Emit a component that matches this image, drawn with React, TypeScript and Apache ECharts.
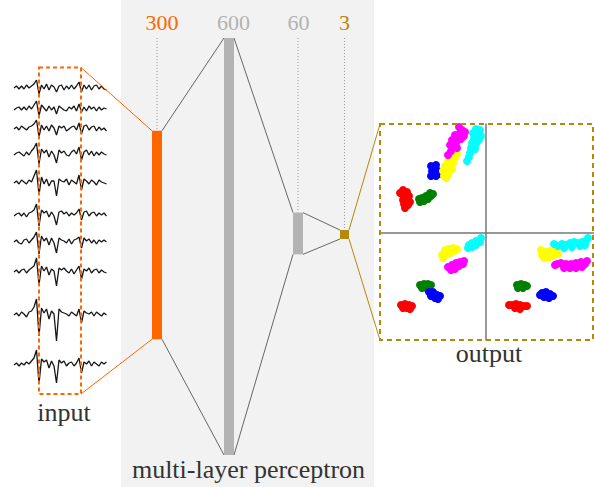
import React, { useEffect, useRef } from 'react';
import * as echarts from 'echarts';

// ---------- data ----------
const LAYER_SIZES = [300, 600, 60, 3];

const TRACE_1 = [0, 2, -1, 2, -1, 3, 0, 2, 4, 8, -6, 3, -1, 4, -2, 3, 1, -4, 2, 3, -2, 2, -1, 3, -1, 2, 6, -4, 3, -1, 3, -2, 2, 3, -1, 2, -1, -2];
const TRACE_2 = [-1, 1, 2, -1, 2, -1, 3, 0, 4, 8, -7, 4, 1, -2, 3, -1, 2, -5, 3, 1, -1, -2, 2, 0, 3, -2, 5, -3, 2, -2, 3, 0, 2, -2, 2, -1, 1, 0];
const TRACE_3 = [0, 2, -1, 3, 1, -1, 2, 3, 5, 9, -8, 4, -1, 3, -2, 4, 1, -6, 3, 1, 3, -2, 0, 2, 3, -1, 6, -5, 3, 4, -1, 2, 3, -2, 2, -1, 1, -2];
const TRACE_4 = [-1, 1, 2, 0, -2, 2, -1, 3, 6, 11, -10, 5, 1, 4, -3, 3, -1, -9, 4, 1, 3, -1, -2, 2, 4, 0, 7, -6, 2, 4, -1, 3, -2, 2, -1, 2, 0, -1];
const TRACE_5 = [0, 2, -1, 3, 1, -1, 3, 1, 7, 13, -12, 6, -1, 4, -3, 2, 2, -13, 4, 2, 1, 4, -2, 3, 1, -1, 8, -7, 4, 2, -1, 3, 1, -2, 3, 1, 0, -1];
const TRACE_6 = [-1, 1, 2, -1, 2, -2, 2, 3, 5, 11, -11, 5, 2, 4, -2, 3, -1, -10, 3, 4, 1, 3, -1, 2, 0, 2, 6, -5, 3, 4, -1, 2, 3, -1, 2, 0, 2, -1];
const TRACE_7 = [0, 2, -1, -2, 2, 3, -1, 2, 5, 10, -12, 6, 1, 4, -3, 4, -1, -11, 4, 2, 1, -1, 3, -2, 2, 3, 5, -6, 4, 1, 3, -1, 2, -2, 2, 0, 2, 0];
const TRACE_8 = [0, 2, -1, 2, 3, -1, 2, 4, 6, 14, -13, 6, 1, 5, -3, 3, 1, -14, 4, 2, 4, 1, -1, 3, -2, 2, 6, -7, 3, 1, 4, -1, 2, 3, -1, 2, 0, -1];
const TRACE_9 = [0, 2, -1, 3, 1, -2, 3, 4, 8, 16, -21, 7, 2, 6, -4, 4, 1, -26, 6, 3, 2, 1, -1, 3, 1, -1, 6, -8, 4, 2, 1, 3, -1, 3, 1, -1, 2, 0];
const TRACE_10 = [0, 2, -1, 2, 0, 3, 1, 4, 7, 15, -19, 6, 3, 5, -3, 4, -1, -18, 5, 2, 4, -1, 2, 3, -1, 2, 7, -8, 3, 1, 4, -1, 3, 1, -1, 3, 1, 3];
const TRACES = [TRACE_1, TRACE_2, TRACE_3, TRACE_4, TRACE_5, TRACE_6, TRACE_7, TRACE_8, TRACE_9, TRACE_10];

const RED_POINTS = [
  [-83, 43], [-79, 41], [-82, 37], [-77, 37], [-83, 33], [-79, 33], [-76, 31], [-82, 29], [-78, 28], [-81, 25], [-86, 40],
  [-85, -72], [-81, -71], [-77, -72], [-74, -73], [-83, -75], [-79, -75], [-76, -76],
  [26, -72], [30, -71], [34, -72], [38, -73], [41, -73], [29, -75], [34, -76], [23, -72],
];
const GREEN_POINTS = [
  [-66, 31], [-62, 32], [-58, 34], [-55, 37], [-60, 37], [-64, 35], [-56, 40], [-53, 39], [-67, 34],
  [-66, -52], [-62, -51], [-58, -51], [-55, -52], [-64, -55], [-60, -55], [-57, -54],
  [31, -52], [35, -51], [39, -52], [32, -55], [37, -55], [41, -53],
];
const BLUE_POINTS = [
  [-55, 67], [-50, 68], [-54, 62], [-48, 62], [-55, 57], [-50, 57], [-52, 64], [-47, 59],
  [-57, -59], [-53, -59], [-49, -62], [-46, -63], [-55, -63], [-51, -65], [-48, -66],
  [56, -60], [60, -59], [64, -61], [67, -63], [58, -64], [63, -65], [54, -62],
];
const YELLOW_POINTS = [
  [-42, 57], [-38, 58], [-43, 62], [-38, 63], [-34, 64], [-41, 67], [-36, 68], [-33, 70], [-38, 72], [-34, 74], [-31, 76], [-29, 79], [-40, 55],
  [-44, -22], [-40, -21], [-36, -20], [-32, -18], [-41, -17], [-37, -16], [-33, -15], [-29, -16], [-43, -25],
  [56, -22], [60, -19], [64, -18], [68, -19], [72, -21], [58, -25], [63, -24], [67, -23], [55, -17],
];
const MAGENTA_POINTS = [
  [-38, 78], [-35, 82], [-32, 86], [-36, 88], [-30, 90], [-34, 93], [-28, 95], [-31, 98], [-26, 100], [-24, 103], [-21, 101], [-25, 94], [-22, 97], [-29, 85], [-27, 106],
  [-38, -34], [-34, -32], [-30, -30], [-26, -29], [-22, -28], [-35, -37], [-31, -36], [-27, -33], [-23, -31],
  [71, -31], [75, -30], [80, -31], [85, -31], [90, -30], [95, -29], [99, -31], [101, -28], [78, -35], [84, -35], [90, -35], [96, -34], [69, -32],
];
const CYAN_POINTS = [
  [-10, 104], [-6, 103], [-13, 100], [-8, 99], [-5, 97], [-12, 95], [-7, 93], [-14, 90], [-10, 89], [-15, 85], [-11, 84], [-16, 80], [-17, 76], [-19, 72],
  [-18, -15], [-14, -14], [-10, -12], [-6, -9], [-14, -10], [-10, -8], [-5, -5], [-17, -12],
  [72, -13], [76, -11], [80, -12], [84, -10], [88, -9], [92, -10], [96, -9], [100, -8], [102, -5], [78, -15], [86, -14], [94, -13], [99, -12], [68, -11],
];
const CLUSTERS = [RED_POINTS, GREEN_POINTS, BLUE_POINTS, YELLOW_POINTS, MAGENTA_POINTS, CYAN_POINTS];

// ---------- styles & layout ----------
const CLUSTER_COLORS = ['#ff0000', '#008000', '#0000ff', '#ffff00', '#ff00ff', '#00ffff'];
const LAYER_FILL = ['#ff6600', '#b3b3b3', '#b3b3b3', '#b8860b'];
const LABEL_FILL = ['#ff6600', '#b3b3b3', '#b3b3b3', '#b8860b'];
const ORANGE = '#ff6600';
const OLIVE = '#b8860b';
const SERIF = '"Liberation Serif", "Times New Roman", serif';

const W = 594;
const H = 487;
const TRACE_X0 = 14;
const TRACE_STEP = 2.5;
const TRACE_BASE = [88, 109, 129, 154, 183, 215, 242, 272, 315, 365];
const INPUT_BOX = { x: 39, y: 67.5, w: 42, h: 326.5 };
const OUT_BOX = { x: 380, y: 124, w: 214, h: 216 };
const LAYER_LEFT = [152, 224, 293, 340];
const LAYER_W = [10, 10, 10, 9];
const LAYER_CY = [235, 246.5, 233.5, 234.5];
const LABEL_X = [162, 233.5, 298.5, 344.5];
const LABEL_Y = 22.5;
const GUIDE_TOP = 38;
const PX_PER_UNIT = 0.695;
const MIN_H = 9;

function layerBox(i: number) {
  const h = Math.max(LAYER_SIZES[i] * PX_PER_UNIT, MIN_H);
  return {
    left: LAYER_LEFT[i],
    right: LAYER_LEFT[i] + LAYER_W[i],
    top: LAYER_CY[i] - h / 2,
    bottom: LAYER_CY[i] + h / 2,
  };
}

export default function App() {
  const ref = useRef<HTMLDivElement>(null);

  useEffect(() => {
    document.body.style.margin = '0';
    const chart = echarts.init(ref.current!, null, { renderer: 'svg' });

    const traceSeries = TRACES.map((tr, k) => ({
      type: 'line',
      xAxisIndex: 0,
      yAxisIndex: 0,
      data: tr.map((v, i) => [TRACE_X0 + i * TRACE_STEP, TRACE_BASE[k] - v]),
      showSymbol: false,
      symbol: 'none',
      silent: true,
      z: 3,
      lineStyle: { color: '#161616', width: 1.3 },
    }));

    const layerSeries = {
      type: 'custom',
      xAxisIndex: 0,
      yAxisIndex: 0,
      silent: true,
      z: 4,
      data: LAYER_SIZES.map((s, i) => [i, s]),
      renderItem: (params: any, api: any) => {
        const i = params.dataIndex;
        const size = api.value(1);
        const b = layerBox(i);
        const p0 = api.coord([b.left, b.top]);
        const p1 = api.coord([b.right, b.bottom]);
        const children: any[] = [];
        const cx = (b.left + b.right) / 2;
        if (b.top - GUIDE_TOP > 2) {
          const g = api.coord([cx, GUIDE_TOP]);
          children.push({
            type: 'line',
            shape: { x1: g[0], y1: g[1], x2: g[0], y2: p0[1] },
            style: { stroke: '#9a9a9a', lineWidth: 1, lineDash: [1, 2] },
          });
        }
        let nextTop: number[], nextBot: number[], stroke = '#666';
        if (i < LAYER_SIZES.length - 1) {
          const n = layerBox(i + 1);
          nextTop = api.coord([n.left, n.top]);
          nextBot = api.coord([n.left, n.bottom]);
        } else {
          nextTop = api.coord([OUT_BOX.x, OUT_BOX.y]);
          nextBot = api.coord([OUT_BOX.x, OUT_BOX.y + OUT_BOX.h]);
          stroke = OLIVE;
        }
        children.push({
          type: 'line',
          shape: { x1: p1[0], y1: p0[1], x2: nextTop[0], y2: nextTop[1] },
          style: { stroke, lineWidth: 1 },
        });
        children.push({
          type: 'line',
          shape: { x1: p1[0], y1: p1[1], x2: nextBot[0], y2: nextBot[1] },
          style: { stroke, lineWidth: 1 },
        });
        if (i === 0) {
          const a = api.coord([INPUT_BOX.x + INPUT_BOX.w, INPUT_BOX.y]);
          const c = api.coord([INPUT_BOX.x + INPUT_BOX.w, INPUT_BOX.y + INPUT_BOX.h]);
          children.push({
            type: 'line',
            shape: { x1: a[0], y1: a[1], x2: p0[0], y2: p0[1] },
            style: { stroke: ORANGE, lineWidth: 1 },
          });
          children.push({
            type: 'line',
            shape: { x1: c[0], y1: c[1], x2: p0[0], y2: p1[1] },
            style: { stroke: ORANGE, lineWidth: 1 },
          });
        }
        children.push({
          type: 'rect',
          shape: { x: p0[0], y: p0[1], width: p1[0] - p0[0], height: p1[1] - p0[1] },
          style: { fill: LAYER_FILL[i] },
        });
        const lp = api.coord([LABEL_X[i], LABEL_Y]);
        children.push({
          type: 'text',
          x: lp[0],
          y: lp[1],
          style: {
            text: String(size),
            fill: LABEL_FILL[i],
            font: `22px ${SERIF}`,
            align: 'center',
            verticalAlign: 'middle',
          },
        });
        return { type: 'group', children };
      },
    };

    const scatterSeries = CLUSTERS.map((pts, k) => ({
      type: 'scatter',
      xAxisIndex: 1,
      yAxisIndex: 1,
      data: pts,
      symbolSize: 8,
      silent: true,
      z: 5,
      itemStyle: { color: CLUSTER_COLORS[k], opacity: 1 },
    }));

    const outAxisBase = {
      type: 'value',
      axisLine: { show: true, onZero: true, lineStyle: { color: '#777', width: 1.5 } },
      axisTick: { show: false },
      axisLabel: { show: false },
      splitLine: { show: false },
    };

    const option: any = {
      animation: false,
      backgroundColor: '#ffffff',
      grid: [
        { left: 0, top: 0, width: W, height: H },
        { left: OUT_BOX.x, top: OUT_BOX.y, width: OUT_BOX.w, height: OUT_BOX.h },
      ],
      xAxis: [
        { type: 'value', gridIndex: 0, min: 0, max: W, show: false },
        { ...outAxisBase, gridIndex: 1, min: -106, max: 108 },
      ],
      yAxis: [
        { type: 'value', gridIndex: 0, min: 0, max: H, inverse: true, show: false },
        { ...outAxisBase, gridIndex: 1, min: -107, max: 109 },
      ],
      graphic: [
        {
          type: 'rect',
          z: 0,
          silent: true,
          shape: { x: 121, y: 0, width: 253, height: H },
          style: { fill: '#f2f2f2' },
        },
        {
          type: 'rect',
          z: 10,
          silent: true,
          shape: { x: INPUT_BOX.x, y: INPUT_BOX.y, width: INPUT_BOX.w, height: INPUT_BOX.h },
          style: { fill: 'none', stroke: ORANGE, lineWidth: 2, lineDash: [4, 3] },
        },
        {
          type: 'rect',
          z: 10,
          silent: true,
          shape: { x: OUT_BOX.x, y: OUT_BOX.y, width: OUT_BOX.w - 1, height: OUT_BOX.h },
          style: { fill: 'none', stroke: OLIVE, lineWidth: 2, lineDash: [5, 4] },
        },
        {
          type: 'text',
          z: 10,
          x: 64,
          y: 412,
          style: { text: 'input', fill: '#333', font: `26px ${SERIF}`, align: 'center', verticalAlign: 'middle' },
        },
        {
          type: 'text',
          z: 10,
          x: 489,
          y: 353,
          style: { text: 'output', fill: '#333', font: `26px ${SERIF}`, align: 'center', verticalAlign: 'middle' },
        },
        {
          type: 'text',
          z: 10,
          x: 248.5,
          y: 469,
          style: { text: 'multi-layer perceptron', fill: '#333', font: `26px ${SERIF}`, align: 'center', verticalAlign: 'middle' },
        },
      ],
      series: [...traceSeries, layerSeries, ...scatterSeries],
    };

    chart.setOption(option);
    return () => chart.dispose();
  }, []);

  return <div ref={ref} style={{ width: W, height: H }} />;
}
